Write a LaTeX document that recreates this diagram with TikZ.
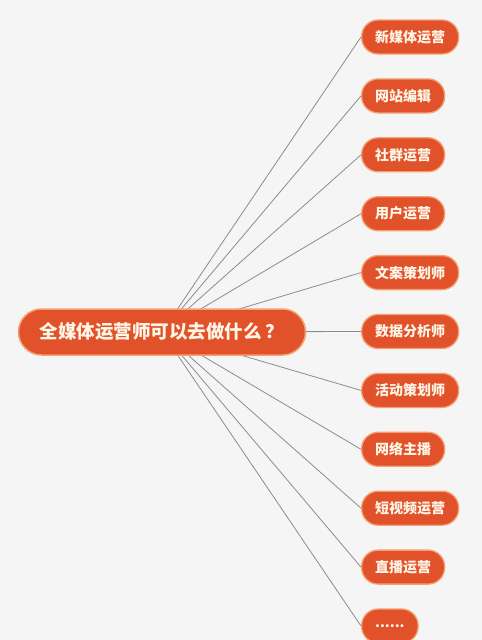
\documentclass[tikz,border=0pt]{standalone}
\usepackage{fontspec}
\setmainfont{Noto Sans CJK SC}
\usetikzlibrary{backgrounds}
\definecolor{bgc}{HTML}{F5F5F5}
\definecolor{pill}{HTML}{E2522A}
\definecolor{rim}{HTML}{F4A072}
\definecolor{txt}{HTML}{FFF6E8}
\definecolor{wire}{HTML}{8C8C8C}
\tikzset{
  pillbox/.style={rectangle, rounded corners=16.5pt, fill=pill, draw=rim, line width=1.3pt,
    text=txt, font=\bfseries\fontsize{14}{16}\selectfont, minimum height=34pt,
    inner xsep=13.5pt, inner ysep=0pt, anchor=west},
  mainbox/.style={rectangle, rounded corners=23pt, fill=pill, draw=rim, line width=1.5pt,
    text=txt, font=\bfseries\fontsize{18.5}{20}\selectfont, minimum height=46pt,
    minimum width=287pt},
  wireline/.style={draw=wire, line width=0.8pt}
}
\begin{document}
\begin{tikzpicture}[x=1pt,y=-1pt]
\useasboundingbox (0,0) rectangle (482,640);
\node[mainbox] (c) at (162,332) {全媒体运营师可以去做什么 ？};
\node[pillbox] (n0) at (361,37.0) {新媒体运营};
\node[pillbox] (n1) at (361,95.9) {网站编辑};
\node[pillbox] (n2) at (361,154.8) {社群运营};
\node[pillbox] (n3) at (361,213.7) {用户运营};
\node[pillbox] (n4) at (361,272.6) {文案策划师};
\node[pillbox] (n5) at (361,331.5) {数据分析师};
\node[pillbox] (n6) at (361,390.4) {活动策划师};
\node[pillbox] (n7) at (361,449.3) {网络主播};
\node[pillbox] (n8) at (361,508.2) {短视频运营};
\node[pillbox] (n9) at (361,567.1) {直播运营};
\node[pillbox, minimum width=55pt] (n10) at (361,626.0) {......};
\begin{pgfonlayer}{background}
\fill[bgc] (0,0) rectangle (482,640);
\foreach \i in {0,...,10} {\draw[wireline] (c.center) -- (n\i.west);}
\end{pgfonlayer}
\end{tikzpicture}
\end{document}
